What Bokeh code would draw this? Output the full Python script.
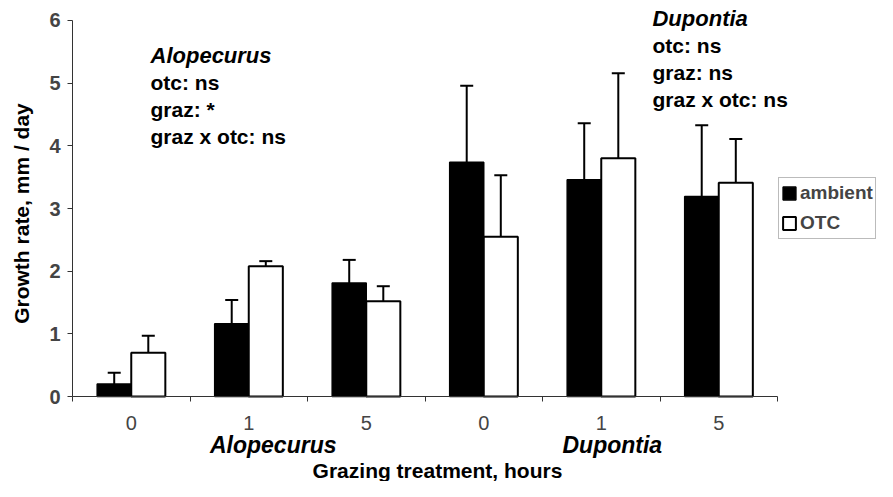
import math
from bokeh.plotting import figure
from bokeh.models import (ColumnDataSource, Range1d, LinearAxis, FixedTicker, Whisker,
                          TeeHead, Legend, LegendItem, Label)
from bokeh.embed import file_html
from bokeh.resources import INLINE

# ---------------- data ----------------
species = ["Alopecurus", "Alopecurus", "Alopecurus", "Dupontia", "Dupontia", "Dupontia"]
hours = ["0", "1", "5", "0", "1", "5"]
ambient_mean = [0.20, 1.16, 1.81, 3.74, 3.46, 3.19]
ambient_se = [0.18, 0.38, 0.37, 1.22, 0.90, 1.14]
otc_mean = [0.70, 2.08, 1.52, 2.55, 3.80, 3.41]
otc_se = [0.27, 0.08, 0.24, 0.98, 1.36, 0.70]
series_names = ["ambient", "OTC"]
y_ticks = [0, 1, 2, 3, 4, 5, 6]

alo_stats = ["Alopecurus", "otc: ns", "graz: *", "graz x otc: ns"]
dup_stats = ["Dupontia", "otc: ns", "graz: ns", "graz x otc: ns"]

x_title = "Grazing treatment, hours"
y_title = "Growth rate, mm / day"

# ---------------- layout ----------------
FONT = "Liberation Sans"
n = len(hours)
centers = [i + 0.5 for i in range(n)]
bw = 0.29
amb_x = [c - bw / 2 for c in centers]
otc_x = [c + bw / 2 for c in centers]

src_amb = ColumnDataSource(dict(x=amb_x, top=ambient_mean,
                                upper=[m + s for m, s in zip(ambient_mean, ambient_se)]))
src_otc = ColumnDataSource(dict(x=otc_x, top=otc_mean,
                                upper=[m + s for m, s in zip(otc_mean, otc_se)]))

W, H = 877, 481
# the frame covers the whole canvas; axes are pinned at x=0 / y=0
p = figure(width=W, height=H, output_backend="svg", toolbar_location=None,
           x_range=Range1d(-0.6128, 6.851), y_range=Range1d(-1.356, 6.319),
           x_axis_type=None, y_axis_type=None,
           min_border_left=0, min_border_right=0, min_border_top=0,
           min_border_bottom=0)
p.outline_line_color = None
p.background_fill_color = "white"

# bars
r_amb = p.vbar(x="x", top="top", width=bw, bottom=0, source=src_amb,
               fill_color="black", line_color="black", line_width=1.5)
r_otc = p.vbar(x="x", top="top", width=bw, bottom=0, source=src_otc,
               fill_color="white", line_color="black", line_width=2)

# error bars (upper only)
for src in (src_amb, src_otc):
    w = Whisker(base="x", lower="top", upper="upper", source=src, dimension="height",
                line_color="black", line_width=2,
                upper_head=TeeHead(size=13, line_color="black", line_width=2),
                lower_head=None)
    p.add_layout(w)

# y axis
yax = LinearAxis(ticker=FixedTicker(ticks=y_ticks), bounds=(0, 6), fixed_location=0)
yax.major_label_text_font = FONT
yax.major_label_text_font_style = "bold"
yax.major_label_text_font_size = "20px"
yax.major_label_standoff = 7
yax.major_tick_out = 5
yax.major_tick_in = 0
yax.minor_tick_line_color = None
yax.axis_line_color = "#333333"
yax.major_tick_line_color = "#333333"
p.add_layout(yax, "left")

# x axis: hour labels at group centres, boundary ticks drawn as minor ticks
xax = LinearAxis(ticker=FixedTicker(ticks=centers, minor_ticks=list(range(n + 1))),
                 bounds=(0, n), fixed_location=0)
xax.major_label_overrides = {c: h for c, h in zip(centers, hours)}
xax.major_label_text_font = FONT
xax.major_label_text_font_size = "20px"
xax.major_label_standoff = 14
xax.major_tick_out = 0
xax.major_tick_in = 0
xax.major_tick_line_color = None
xax.minor_tick_out = 5
xax.minor_tick_in = 0
xax.minor_tick_line_color = "#333333"
xax.axis_line_color = "#333333"
p.add_layout(xax, "below")

# species names under the hour labels
sp_names = list(dict.fromkeys(species))
for s in sp_names:
    idx = [i for i, t in enumerate(species) if t == s]
    mid = centers[idx[len(idx) // 2]]
    p.add_layout(Label(x=mid - 0.33, y=-0.766, text=s, text_font=FONT,
                       text_font_size="23px", text_font_style="bold italic",
                       text_align="left", text_baseline="middle", text_color="black"))

# axis titles
p.add_layout(Label(x=3.106, y=-1.181, text=x_title, text_font=FONT,
                   text_font_size="21px", text_font_style="bold",
                   text_align="center", text_baseline="middle", text_color="black"))
p.add_layout(Label(x=-0.434, y=2.92, text=y_title, angle=math.pi / 2, text_font=FONT,
                   text_font_size="21px", text_font_style="bold",
                   text_align="center", text_baseline="middle", text_color="black"))

# statistics annotations
def add_block(lines, x0, y0, dy=0.431):
    for k, t in enumerate(lines):
        p.add_layout(Label(x=x0, y=y0 - k * dy, text=t, text_font=FONT,
                           text_font_size="22px" if k == 0 else "21px",
                           text_baseline="middle",
                           text_font_style="bold italic" if k == 0 else "bold",
                           text_color="black"))

add_block(alo_stats, 0.664, 5.441)
add_block(dup_stats, 4.936, 6.032)

# legend
legend = Legend(items=[LegendItem(label=series_names[0], renderers=[r_amb]),
                       LegendItem(label=series_names[1], renderers=[r_otc])],
                location=(778, 242))
legend.label_text_font = FONT
legend.label_text_font_style = "bold"
legend.label_text_font_size = "19px"
legend.label_height = 26
legend.glyph_height = 16
legend.glyph_width = 16
legend.label_standoff = 3
legend.spacing = 4
legend.padding = 2
legend.margin = 0
legend.border_line_color = "#777777"
legend.border_line_width = 1.5
legend.background_fill_alpha = 1
p.add_layout(legend)

open("out.html", "w").write(file_html(p, INLINE))
